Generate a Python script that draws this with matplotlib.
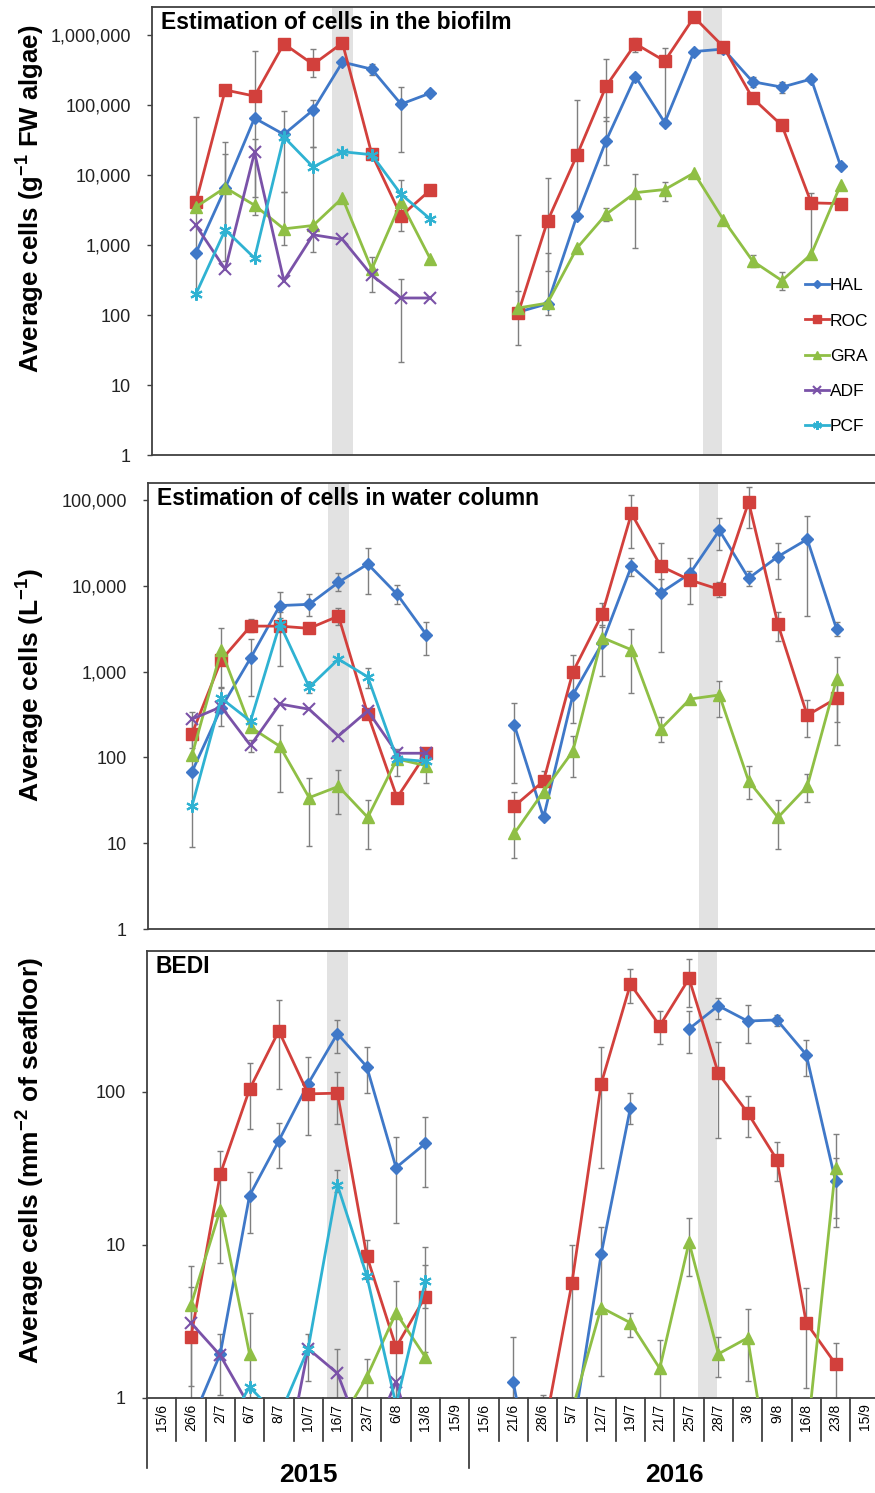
import numpy as np
import matplotlib
matplotlib.use('Agg')
import matplotlib.pyplot as plt
from matplotlib.transforms import blended_transform_factory

plt.rcParams['font.family'] = ['Liberation Sans', 'DejaVu Sans']
plt.rcParams['mathtext.fontset'] = 'custom'
plt.rcParams['mathtext.rm'] = 'Liberation Sans'
plt.rcParams['mathtext.bf'] = 'Liberation Sans:bold'

# sampling dates (2015 then 2016)
dates = ['15/6', '26/6', '2/7', '6/7', '8/7', '10/7', '16/7', '23/7', '6/8', '13/8', '15/9',
         '15/6', '21/6', '28/6', '5/7', '12/7', '19/7', '21/7', '25/7', '28/7', '3/8', '9/8',
         '16/8', '23/8', '15/9']
sites = ['HAL', 'ROC', 'GRA', 'ADF', 'PCF']
N = None

# cells in the biofilm (g-1 FW algae)
bio_HAL = [N, 770, 6500, 65000, 38000, 85000, 410000, 325000, 103000, 148000, N,
           N, 110, 145, 2600, 31000, 255000, 56000, 580000, 630000, 215000, 180000, 235000, 13500, N]
bio_ROC = [N, 4100, 164000, 134000, 750000, 380000, 770000, 20000, 2600, 6100, N,
           N, 107, 2200, 19000, 186000, 750000, 425000, 1800000, 680000, 125000, 51000, 4000, 3900, N]
bio_GRA = [N, 3500, 6600, 3700, 1700, 1900, 4700, 450, 4100, 630, N,
           N, 126, 148, 900, 2750, 5600, 6200, 10700, 2300, 590, 310, 740, 7200, N]
bio_ADF = [N, 1900, 450, 21000, 310, 1400, 1200, 370, 175, 175, N] + [N] * 14
bio_PCF = [N, 200, 1650, 650, 35000, 13000, 21500, 19500, 5300, 2350, N] + [N] * 14
bio_err = [('ROC', 1, 190, 68000), ('HAL', 2, 600, 30000), ('GRA', 2, 1500, 20000),
           ('ROC', 3, 2700, 590000), ('ADF', 3, 4900, 33000), ('HAL', 4, 5700, 82000),
           ('GRA', 4, 1000, 5700), ('ROC', 5, 250000, 630000), ('HAL', 5, 25000, 117000),
           ('PCF', 5, 800, 25000), ('HAL', 7, 270000, 380000), ('GRA', 7, 215, 675),
           ('HAL', 8, 21000, 180000), ('PCF', 8, 1600, 8500), ('ADF', 8, 21, 330),
           ('ROC', 12, 37, 1380), ('HAL', 12, 100, 220), ('ROC', 13, 430, 9100),
           ('HAL', 13, 100, 770), ('ROC', 14, 2600, 117000), ('ROC', 15, 60000, 450000),
           ('HAL', 15, 14000, 68000), ('GRA', 15, 2200, 3400), ('ROC', 16, 575000, 900000),
           ('GRA', 16, 900, 10200), ('ROC', 17, 56000, 660000), ('GRA', 17, 4200, 8000),
           ('HAL', 19, 560000, 700000), ('HAL', 20, 180000, 250000), ('GRA', 20, 480, 720),
           ('HAL', 21, 150000, 215000), ('GRA', 21, 230, 410), ('ROC', 22, 700, 5500)]

# cells in water column (L-1)
wat_HAL = [N, 68, 380, 1440, 5900, 6100, 11000, 18000, 8000, 2700, N,
           N, 240, 20, 535, 2150, 17000, 8300, 14000, 44500, 12300, 22000, 35000, 3150, N]
wat_ROC = [N, 188, 1370, 3400, 3400, 3200, 4450, 320, 34, 112, N,
           N, 27, 53, 990, 4700, 70000, 17000, 11700, 9100, 95000, 3570, 310, 490, N]
wat_GRA = [N, 106, 1780, 225, 135, 34, 46, 20, 96, 80, N,
           N, 13, 40, 118, 2500, 1800, 215, 480, 535, 53, 20, 46, 820, N]
wat_ADF = [N, 280, 390, 138, 420, 365, 178, 350, 112, 112, N] + [N] * 14
wat_PCF = [N, 27, 490, 265, 3600, 660, 1400, 870, 96, 90, N] + [N] * 14
wat_err = [('PCF', 1, 9, 340), ('ROC', 1, 130, 300), ('GRA', 2, 660, 3250), ('ADF', 2, 235, 650),
           ('HAL', 3, 520, 2400), ('ROC', 3, 2900, 4100), ('ADF', 3, 116, 160),
           ('HAL', 4, 4200, 8500), ('PCF', 4, 1170, 5000), ('GRA', 4, 40, 240),
           ('HAL', 5, 4500, 8000), ('GRA', 5, 9.3, 57), ('PCF', 5, 560, 760),
           ('HAL', 6, 8800, 14000), ('ROC', 6, 3500, 5600), ('GRA', 6, 22, 71),
           ('HAL', 7, 8000, 27500), ('PCF', 7, 640, 1100), ('GRA', 7, 8.5, 32),
           ('HAL', 8, 6200, 10200), ('PCF', 8, 60, 125), ('HAL', 9, 1550, 3800), ('GRA', 9, 50, 125),
           ('HAL', 12, 50, 430), ('GRA', 12, 6.8, 40), ('ROC', 13, 40, 70),
           ('ROC', 14, 250, 1560), ('GRA', 14, 59, 178), ('ROC', 15, 3300, 6300),
           ('HAL', 15, 890, 3500), ('ROC', 16, 27500, 115000), ('GRA', 16, 560, 3150),
           ('HAL', 16, 13000, 21000), ('ROC', 17, 9000, 32000), ('HAL', 17, 1700, 12000),
           ('GRA', 17, 150, 300), ('HAL', 18, 6100, 21000), ('HAL', 19, 26000, 62000),
           ('GRA', 19, 295, 780), ('ROC', 19, 7500, 11000), ('ROC', 20, 47000, 141000),
           ('GRA', 20, 33, 80), ('HAL', 20, 10000, 15000), ('HAL', 21, 12000, 32000),
           ('ROC', 21, 2300, 5000), ('GRA', 21, 8.5, 32), ('HAL', 22, 4450, 65000),
           ('ROC', 22, 173, 465), ('GRA', 22, 30, 65), ('HAL', 23, 2600, 3800),
           ('GRA', 23, 140, 1480), ('ROC', 23, 260, 800)]

# BEDI (mm-2 of seafloor)
bedi_HAL = [N, 0.68, 1.94, 21, 48, 113, 240, 146, 32, 46, N,
            N, 1.27, 0.13, 0.54, 8.7, 79, N, 258, 365, 290, 295, 175, 26, N]
bedi_ROC = [N, 2.5, 29, 104, 250, 97, 98, 8.5, 2.15, 4.6, N,
            N, N, 0.53, 5.6, 113, 505, 270, 550, 132, 73, 36, 3.1, 1.67, N]
bedi_GRA = [N, 4.05, 17, 1.94, N, N, 0.65, 1.37, 3.6, 1.85, N,
            N, N, N, 0.82, 3.9, 3.1, 1.56, 10.4, 1.94, 2.47, 0.17, 0.49, 32, N]
bedi_ADF = [N, 3.1, 1.9, 0.88, 0.22, 2.1, 1.45, 0.46, 1.27, 0.3, N] + [N] * 14
bedi_PCF = [N, N, 0.56, 1.18, 0.75, 2.1, 24.6, 6.3, 0.9, 5.8, N] + [N] * 14
bedi_err = [('GRA', 1, 0.3, 7.3), ('ROC', 1, 1.2, 5.3), ('ROC', 2, 7.6, 41), ('HAL', 2, 1.05, 2.6),
            ('ROC', 3, 57, 155), ('HAL', 3, 12, 30), ('GRA', 3, 0.5, 3.6),
            ('ROC', 4, 105, 400), ('HAL', 4, 32, 63), ('HAL', 5, 52, 170), ('PCF', 5, 1.3, 2.6),
            ('HAL', 6, 180, 295), ('ROC', 6, 62, 135), ('PCF', 6, 22, 31), ('ADF', 6, 0.5, 2.1),
            ('HAL', 7, 98, 195), ('ROC', 7, 6, 10.8), ('GRA', 7, 0.5, 1.8),
            ('HAL', 8, 14, 51), ('GRA', 8, 0.5, 5.8), ('HAL', 9, 24, 69), ('PCF', 9, 3.9, 9.7),
            ('ROC', 9, 2, 7.4), ('HAL', 12, 0.5, 2.5), ('ROC', 13, 0.5, 1.05), ('ROC', 14, 0.5, 10),
            ('ROC', 15, 32, 196), ('HAL', 15, 1.4, 13), ('ROC', 16, 380, 630), ('HAL', 16, 62, 98),
            ('GRA', 16, 2.5, 3.6), ('ROC', 17, 205, 335), ('GRA', 17, 0.5, 2.4),
            ('ROC', 18, 360, 740), ('HAL', 18, 180, 335), ('GRA', 18, 6.3, 15),
            ('HAL', 19, 300, 410), ('ROC', 19, 50, 213), ('GRA', 19, 1.37, 2.5),
            ('HAL', 20, 210, 370), ('ROC', 20, 51, 94), ('GRA', 20, 1.3, 3.8),
            ('HAL', 21, 270, 320), ('ROC', 21, 26, 47), ('HAL', 22, 126, 219), ('ROC', 22, 1.16, 5.2),
            ('HAL', 23, 13, 37), ('GRA', 23, 15, 53), ('ROC', 23, 1.0, 2.3)]

colors = {'HAL': '#3f78c8', 'ROC': '#d2403c', 'GRA': '#8fbf45', 'ADF': '#7a52a8', 'PCF': '#2fb2d2'}
markers = {'HAL': ('D', 6), 'ROC': ('s', 8), 'GRA': ('^', 8), 'ADF': ('x', 8), 'PCF': ((6, 2, 0), 9)}

W, H = 875, 1493
fig = plt.figure(figsize=(W / 100, H / 100), dpi=100)


def make_ax(left, top, bottom):
    ax = fig.add_axes([left / W, 1 - bottom / H, 1 - left / W, (bottom - top) / H])
    ax.set_xlim(-0.5, -0.5 + (W - left) / 29.3)
    return ax


panels = [
    (make_ax(152, 7, 455), [bio_HAL, bio_ROC, bio_GRA, bio_ADF, bio_PCF], bio_err, 6.4,
     'Estimation of cells in the biofilm'),
    (make_ax(148, 483, 929), [wat_HAL, wat_ROC, wat_GRA, wat_ADF, wat_PCF], wat_err, 5.2,
     'Estimation of cells in water column'),
    (make_ax(147, 951, 1398), [bedi_HAL, bedi_ROC, bedi_GRA, bedi_ADF, bedi_PCF], bedi_err, 2.92,
     'BEDI'),
]

x = np.arange(len(dates))
for ax, series, errs, top_exp, title in panels:
    ax.set_yscale('log')
    ax.set_ylim(1, 10 ** top_exp)
    ax.axvspan(5.65, 6.35, color='#e2e2e2', zorder=0, lw=0)
    ax.axvspan(18.3, 18.95, color='#e2e2e2', zorder=0, lw=0)
    for name, vals in zip(sites, series):
        y = np.array(vals, dtype=float)
        m, ms = markers[name]
        ax.plot(x, y, color=colors[name], lw=2, marker=m, ms=ms, mew=1.5 if name in ('ADF', 'PCF') else 1,
                mec=colors[name], label=name, zorder=3)
    ex = [e[1] for e in errs]
    ey = [np.array(dict(zip(sites, series))[e[0]], dtype=float)[e[1]] for e in errs]
    elo = [ey[k] - errs[k][2] for k in range(len(errs))]
    ehi = [errs[k][3] - ey[k] for k in range(len(errs))]
    ax.errorbar(ex, ey, yerr=[elo, ehi], fmt='none', ecolor='#7f7f7f', elinewidth=1, capsize=2.5,
                capthick=1, zorder=2)
    decades = [10 ** k for k in range(int(top_exp) + 1)]
    ax.set_yticks(decades)
    ax.set_yticklabels([f'{d:,}' for d in decades], color='#222222')
    ax.yaxis.set_minor_locator(plt.NullLocator())
    ax.tick_params(axis='y', labelsize=13, length=3.6, width=1, color='#404040', pad=11.5)
    ax.tick_params(axis='x', length=0, labelbottom=False)
    for s in ['left', 'top', 'bottom']:
        ax.spines[s].set_color('#404040')
        ax.spines[s].set_linewidth(1.3)
    ax.spines['right'].set_visible(False)
    ax.text(0.012, 0.99, title, transform=ax.transAxes, fontsize=16.5, fontweight='bold', va='top', ha='left')

ax1, ax2, ax3 = [p[0] for p in panels]
ax1.legend(loc='upper left', bbox_to_anchor=(0.893, 0.41), frameon=False, fontsize=12.5, handlelength=1.4,
           handletextpad=0.05, labelspacing=1.15, borderaxespad=0, markerscale=0.7)

# category table under the bottom panel
ax3.set_xticks(x)
ax3.set_xticklabels(dates, rotation=90, fontsize=10)
ax3.tick_params(axis='x', length=0, pad=4, labelbottom=True)
tr = blended_transform_factory(ax3.transData, ax3.transAxes)
for k in range(len(dates) + 1):
    low = -0.157 if k in (0, 11) else -0.096
    ax3.plot([k - 0.5, k - 0.5], [0, low], transform=tr, color='#303030', lw=1.2, clip_on=False)
ax3.text(5, -0.172, '2015', transform=tr, ha='center', va='center', fontsize=19, fontweight='bold')
ax3.text(17.5, -0.172, '2016', transform=tr, ha='center', va='center', fontsize=19, fontweight='bold')

# y labels
fig.text(30 / W, 1 - 199 / H, r'Average cells (g$^{\mathbf{-1}}$ FW algae)', rotation=90, ha='center',
         va='center', fontsize=18.5, fontweight='bold')
fig.text(30 / W, 1 - 685 / H, r'Average cells (L$^{\mathbf{-1}}$)', rotation=90, ha='center',
         va='center', fontsize=19, fontweight='bold')
fig.text(30 / W, 1 - 1161 / H, r'Average cells (mm$^{\mathbf{-2}}$ of seafloor)', rotation=90, ha='center',
         va='center', fontsize=19, fontweight='bold')

fig.savefig('out.png', dpi=100)
